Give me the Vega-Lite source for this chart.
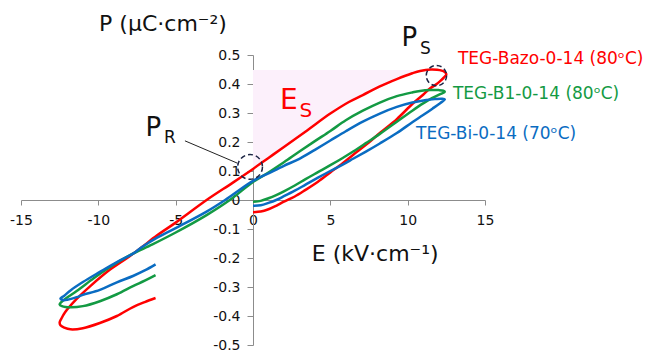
{
  "$schema": "https://vega.github.io/schema/vega-lite/v6.json",
  "width": 464,
  "height": 290,
  "autosize": {"type": "none"},
  "padding": {"left": 21, "top": 55, "right": 166, "bottom": 7},
  "background": "white",
  "config": {"view": {"stroke": null}, "font": "DejaVu Sans"},
  "datasets": {
    "curves": [
      {"s":"red","i":0,"E":0,"P":-0.042},{"s":"red","i":1,"E":0.5,"P":-0.04},{"s":"red","i":2,"E":1,"P":-0.032},{"s":"red","i":3,"E":1.5,"P":-0.02},{"s":"red","i":4,"E":2,"P":-0.006},{"s":"red","i":5,"E":2.7,"P":0.012},{"s":"red","i":6,"E":3.4,"P":0.035},{"s":"red","i":7,"E":4.2,"P":0.063},{"s":"red","i":8,"E":5,"P":0.095},{"s":"red","i":9,"E":5.8,"P":0.127},{"s":"red","i":10,"E":6.5,"P":0.157},{"s":"red","i":11,"E":7.3,"P":0.19},{"s":"red","i":12,"E":8.2,"P":0.231},{"s":"red","i":13,"E":9.3,"P":0.279},{"s":"red","i":14,"E":10.3,"P":0.331},{"s":"red","i":15,"E":11,"P":0.363},{"s":"red","i":16,"E":11.4,"P":0.383},{"s":"red","i":17,"E":11.8,"P":0.397},{"s":"red","i":18,"E":12.1,"P":0.41},{"s":"red","i":19,"E":12.35,"P":0.423},{"s":"red","i":20,"E":12.5,"P":0.434},
      {"s":"red","i":21,"E":12.4,"P":0.441},{"s":"red","i":22,"E":12.2,"P":0.446},{"s":"red","i":23,"E":11.9,"P":0.449},{"s":"red","i":24,"E":11.5,"P":0.45},{"s":"red","i":25,"E":10.8,"P":0.445},{"s":"red","i":26,"E":10.3,"P":0.437},{"s":"red","i":27,"E":9.3,"P":0.417},{"s":"red","i":28,"E":8.2,"P":0.392},{"s":"red","i":29,"E":7.1,"P":0.362},{"s":"red","i":30,"E":6.2,"P":0.338},{"s":"red","i":31,"E":5,"P":0.298},{"s":"red","i":32,"E":3.5,"P":0.24},{"s":"red","i":33,"E":2,"P":0.183},{"s":"red","i":34,"E":1,"P":0.145},{"s":"red","i":35,"E":0,"P":0.107},{"s":"red","i":36,"E":-1.3,"P":0.06},{"s":"red","i":37,"E":-3,"P":0.0},{"s":"red","i":38,"E":-5,"P":-0.078},{"s":"red","i":39,"E":-6.2,"P":-0.122},{"s":"red","i":40,"E":-7.2,"P":-0.163},{"s":"red","i":41,"E":-7.95,"P":-0.193},{"s":"red","i":42,"E":-9.24,"P":-0.24},{"s":"red","i":43,"E":-10.5,"P":-0.296},{"s":"red","i":44,"E":-11.4,"P":-0.341},{"s":"red","i":45,"E":-12.15,"P":-0.387},{"s":"red","i":46,"E":-12.4,"P":-0.41},{"s":"red","i":47,"E":-12.5,"P":-0.422},
      {"s":"red","i":48,"E":-12.45,"P":-0.432},{"s":"red","i":49,"E":-12.2,"P":-0.44},{"s":"red","i":50,"E":-11.8,"P":-0.446},{"s":"red","i":51,"E":-11,"P":-0.442},{"s":"red","i":52,"E":-9.9,"P":-0.424},{"s":"red","i":53,"E":-8.8,"P":-0.4},{"s":"red","i":54,"E":-7.76,"P":-0.369},{"s":"red","i":55,"E":-7,"P":-0.352},{"s":"red","i":56,"E":-6.3,"P":-0.338},
      {"s":"green","i":0,"E":0,"P":-0.006},{"s":"green","i":1,"E":0.5,"P":-0.003},{"s":"green","i":2,"E":1,"P":0.006},{"s":"green","i":3,"E":1.5,"P":0.017},{"s":"green","i":4,"E":2,"P":0.03},{"s":"green","i":5,"E":2.7,"P":0.05},{"s":"green","i":6,"E":3.4,"P":0.072},{"s":"green","i":7,"E":4.2,"P":0.096},{"s":"green","i":8,"E":5,"P":0.12},{"s":"green","i":9,"E":5.8,"P":0.145},{"s":"green","i":10,"E":6.5,"P":0.168},{"s":"green","i":11,"E":7.3,"P":0.196},{"s":"green","i":12,"E":8.2,"P":0.228},{"s":"green","i":13,"E":9.3,"P":0.27},{"s":"green","i":14,"E":10.3,"P":0.308},{"s":"green","i":15,"E":11,"P":0.333},{"s":"green","i":16,"E":11.6,"P":0.352},{"s":"green","i":17,"E":12.1,"P":0.365},{"s":"green","i":18,"E":12.4,"P":0.373},
      {"s":"green","i":19,"E":12.3,"P":0.377},{"s":"green","i":20,"E":12,"P":0.379},{"s":"green","i":21,"E":11.5,"P":0.379},{"s":"green","i":22,"E":10.8,"P":0.376},{"s":"green","i":23,"E":10.3,"P":0.371},{"s":"green","i":24,"E":9.3,"P":0.358},{"s":"green","i":25,"E":8.2,"P":0.336},{"s":"green","i":26,"E":7.1,"P":0.308},{"s":"green","i":27,"E":6,"P":0.275},{"s":"green","i":28,"E":5,"P":0.238},{"s":"green","i":29,"E":4,"P":0.203},{"s":"green","i":30,"E":3,"P":0.167},{"s":"green","i":31,"E":2,"P":0.13},{"s":"green","i":32,"E":1,"P":0.095},{"s":"green","i":33,"E":0,"P":0.062},{"s":"green","i":34,"E":-1.5,"P":0.0},{"s":"green","i":35,"E":-3,"P":-0.052},{"s":"green","i":36,"E":-5,"P":-0.112},{"s":"green","i":37,"E":-6.5,"P":-0.153},{"s":"green","i":38,"E":-7.95,"P":-0.19},{"s":"green","i":39,"E":-9.24,"P":-0.231},{"s":"green","i":40,"E":-10.3,"P":-0.27},{"s":"green","i":41,"E":-11.4,"P":-0.314},{"s":"green","i":42,"E":-12.15,"P":-0.341},{"s":"green","i":43,"E":-12.45,"P":-0.355},{"s":"green","i":44,"E":-12.5,"P":-0.36},
      {"s":"green","i":45,"E":-12.35,"P":-0.366},{"s":"green","i":46,"E":-11.8,"P":-0.37},{"s":"green","i":47,"E":-11,"P":-0.366},{"s":"green","i":48,"E":-9.9,"P":-0.349},{"s":"green","i":49,"E":-8.8,"P":-0.325},{"s":"green","i":50,"E":-7.76,"P":-0.297},{"s":"green","i":51,"E":-7,"P":-0.278},{"s":"green","i":52,"E":-6.3,"P":-0.259},
      {"s":"blue","i":0,"E":0,"P":-0.02},{"s":"blue","i":1,"E":0.5,"P":-0.018},{"s":"blue","i":2,"E":1,"P":-0.01},{"s":"blue","i":3,"E":1.5,"P":0.0},{"s":"blue","i":4,"E":2,"P":0.013},{"s":"blue","i":5,"E":2.7,"P":0.032},{"s":"blue","i":6,"E":3.4,"P":0.053},{"s":"blue","i":7,"E":4.2,"P":0.077},{"s":"blue","i":8,"E":5,"P":0.1},{"s":"blue","i":9,"E":5.8,"P":0.122},{"s":"blue","i":10,"E":6.5,"P":0.143},{"s":"blue","i":11,"E":7.3,"P":0.167},{"s":"blue","i":12,"E":8.2,"P":0.195},{"s":"blue","i":13,"E":9.3,"P":0.231},{"s":"blue","i":14,"E":10.3,"P":0.268},{"s":"blue","i":15,"E":11,"P":0.293},{"s":"blue","i":16,"E":11.6,"P":0.315},{"s":"blue","i":17,"E":12.1,"P":0.334},{"s":"blue","i":18,"E":12.4,"P":0.347},
      {"s":"blue","i":19,"E":12.2,"P":0.349},{"s":"blue","i":20,"E":11.8,"P":0.348},{"s":"blue","i":21,"E":11.2,"P":0.345},{"s":"blue","i":22,"E":10.3,"P":0.336},{"s":"blue","i":23,"E":9.3,"P":0.321},{"s":"blue","i":24,"E":8.2,"P":0.298},{"s":"blue","i":25,"E":7.1,"P":0.27},{"s":"blue","i":26,"E":6,"P":0.237},{"s":"blue","i":27,"E":5,"P":0.205},{"s":"blue","i":28,"E":4,"P":0.173},{"s":"blue","i":29,"E":3,"P":0.142},{"s":"blue","i":30,"E":2,"P":0.118},{"s":"blue","i":31,"E":1,"P":0.092},{"s":"blue","i":32,"E":0,"P":0.066},{"s":"blue","i":33,"E":-1.8,"P":0.0},{"s":"blue","i":34,"E":-3,"P":-0.04},{"s":"blue","i":35,"E":-5,"P":-0.097},{"s":"blue","i":36,"E":-6.2,"P":-0.13},{"s":"blue","i":37,"E":-7.2,"P":-0.163},{"s":"blue","i":38,"E":-7.76,"P":-0.185},{"s":"blue","i":39,"E":-8.8,"P":-0.214},{"s":"blue","i":40,"E":-9.9,"P":-0.248},{"s":"blue","i":41,"E":-11,"P":-0.283},{"s":"blue","i":42,"E":-11.8,"P":-0.312},{"s":"blue","i":43,"E":-12.2,"P":-0.33},{"s":"blue","i":44,"E":-12.45,"P":-0.34},
      {"s":"blue","i":45,"E":-12.3,"P":-0.345},{"s":"blue","i":46,"E":-12,"P":-0.344},{"s":"blue","i":47,"E":-11.4,"P":-0.335},{"s":"blue","i":48,"E":-11,"P":-0.327},{"s":"blue","i":49,"E":-9.9,"P":-0.31},{"s":"blue","i":50,"E":-8.8,"P":-0.284},{"s":"blue","i":51,"E":-7.76,"P":-0.262},{"s":"blue","i":52,"E":-7,"P":-0.243},{"s":"blue","i":53,"E":-6.3,"P":-0.222}
    ]
  },
  "encoding": {
    "x": {"field": "E", "type": "quantitative",
      "scale": {"domain": [-15, 15], "nice": false, "zero": false},
      "axis": {"orient": "bottom", "offset": -145, "values": [-15, -10, -5, 0, 5, 10, 15], "title": null, "grid": false,
        "domainColor": "#8c8c8c", "tickColor": "#8c8c8c", "tickSize": 5, "labelPadding": 8, "labelFontSize": 14,
        "labelColor": "#111", "labelFont": "DejaVu Sans", "labelFlush": false, "labelOverlap": false,
        "labelExpr": "datum.value < 0 ? '-' + format(-datum.value, '~g') : format(datum.value, '~g')"}},
    "y": {"field": "P", "type": "quantitative",
      "scale": {"domain": [-0.5, 0.5], "nice": false, "zero": false},
      "axis": {"orient": "left", "offset": -232, "values": [-0.5, -0.4, -0.3, -0.2, -0.1, 0, 0.1, 0.2, 0.3, 0.4, 0.5], "title": null, "grid": false,
        "domainColor": "#8c8c8c", "tickColor": "#8c8c8c", "tickSize": 6, "labelPadding": 7, "labelFontSize": 14,
        "labelColor": "#111", "labelFont": "DejaVu Sans", "labelFlush": false, "labelOverlap": false,
        "labelExpr": "datum.value < 0 ? '-' + format(-datum.value, '~g') : format(datum.value, '~g')"}}
  },
  "layer": [
    {
      "data": {"name": "curves"},
      "transform": [{"filter": "datum.s == 'red' && datum.i >= 24 && datum.i <= 35"}],
      "mark": {"type": "area", "color": "#fcf0fb", "clip": false, "interpolate": "monotone"},
      "encoding": {"y2": {"datum": 0.448}}
    },
    {
      "data": {"name": "curves"},
      "mark": {"type": "line", "strokeWidth": 2.5, "clip": false, "interpolate": "catmull-rom"},
      "encoding": {
        "color": {"field": "s", "type": "nominal", "legend": null,
          "scale": {"domain": ["red", "green", "blue"], "range": ["#ff0000", "#139a43", "#0a6cc2"]}},
        "detail": {"field": "s"},
        "order": {"field": "i", "type": "quantitative"}
      }
    },
    {
      "data": {"values": [{"E": -4.4, "P": 0.204, "E2": -1.01, "P2": 0.127}]},
      "mark": {"type": "rule", "color": "#222", "strokeWidth": 1},
      "encoding": {"x2": {"field": "E2"}, "y2": {"field": "P2"}}
    },
    {
      "data": {"values": [{"E": -0.19, "P": 0.114}]},
      "mark": {"type": "point", "shape": "circle", "filled": false, "size": 615, "stroke": "#1c2444", "strokeWidth": 1.5, "strokeDash": [5, 3], "opacity": 1}
    },
    {
      "data": {"values": [{"E": 11.86, "P": 0.429}]},
      "mark": {"type": "point", "shape": "circle", "filled": false, "size": 415, "stroke": "#1c2444", "strokeWidth": 1.5, "strokeDash": [5, 3], "opacity": 1}
    },
    {
      "data": {"values": [{"E": -9.95, "P": 0.583, "t": "P (μC·cm⁻²)"}, {"E": 3.8, "P": -0.21, "t": "E (kV·cm⁻¹)"}]},
      "mark": {"type": "text", "align": "left", "baseline": "alphabetic", "fontSize": 22, "color": "#111", "font": "DejaVu Sans"},
      "encoding": {"text": {"field": "t"}}
    },
    {
      "data": {"values": [{"E": 9.6, "P": 0.531, "t": "P"}, {"E": -6.95, "P": 0.221, "t": "P"}]},
      "mark": {"type": "text", "align": "left", "baseline": "alphabetic", "fontSize": 26, "color": "#111", "font": "DejaVu Sans"},
      "encoding": {"text": {"field": "t"}}
    },
    {
      "data": {"values": [{"E": 10.8, "P": 0.503, "t": "S"}, {"E": -5.75, "P": 0.197, "t": "R"}]},
      "mark": {"type": "text", "align": "left", "baseline": "alphabetic", "fontSize": 17, "color": "#111", "font": "DejaVu Sans"},
      "encoding": {"text": {"field": "t"}}
    },
    {
      "data": {"values": [{"E": 1.75, "P": 0.314, "t": "E"}]},
      "mark": {"type": "text", "align": "left", "baseline": "alphabetic", "fontSize": 28, "color": "#ff0000", "font": "DejaVu Sans"},
      "encoding": {"text": {"field": "t"}}
    },
    {
      "data": {"values": [{"E": 3.0, "P": 0.286, "t": "S"}]},
      "mark": {"type": "text", "align": "left", "baseline": "alphabetic", "fontSize": 20, "color": "#ff0000", "font": "DejaVu Sans"},
      "encoding": {"text": {"field": "t"}}
    },
    {
      "data": {"values": [{"E": 13.25, "P": 0.469, "t": "TEG-Bazo-0-14 (80ᵒC)"}]},
      "mark": {"type": "text", "align": "left", "baseline": "alphabetic", "fontSize": 17, "color": "#ff0000", "font": "DejaVu Sans"},
      "encoding": {"text": {"field": "t"}}
    },
    {
      "data": {"values": [{"E": 12.93, "P": 0.348, "t": "TEG-B1-0-14 (80ᵒC)"}]},
      "mark": {"type": "text", "align": "left", "baseline": "alphabetic", "fontSize": 17, "color": "#139a43", "font": "DejaVu Sans"},
      "encoding": {"text": {"field": "t"}}
    },
    {
      "data": {"values": [{"E": 10.54, "P": 0.21, "t": "TEG-Bi-0-14 (70ᵒC)"}]},
      "mark": {"type": "text", "align": "left", "baseline": "alphabetic", "fontSize": 17, "color": "#0a6cc2", "font": "DejaVu Sans"},
      "encoding": {"text": {"field": "t"}}
    }
  ]
}
